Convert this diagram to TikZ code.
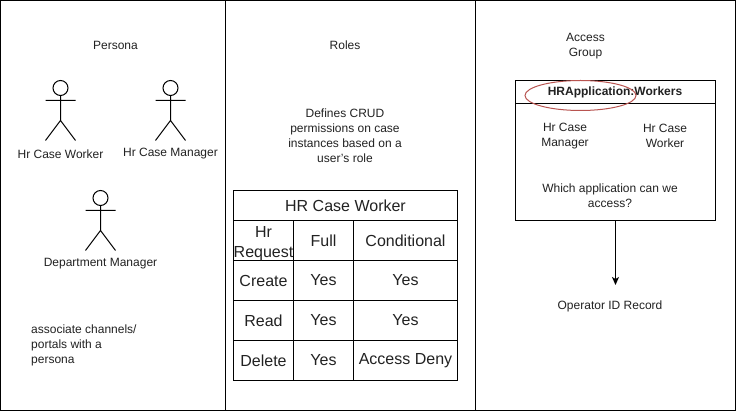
\documentclass[tikz,border=0pt]{standalone}
\usepackage{fontspec}
\setmainfont{Liberation Sans}
\usetikzlibrary{arrows.meta}
\definecolor{txt}{HTML}{222222}
\tikzset{
  lbl/.style={inner sep=0pt,align=center,text=txt,font=\fontsize{12}{15}\selectfont},
  cell/.style={inner sep=0pt,align=center,text=txt,font=\fontsize{16}{20}\selectfont},
  line/.style={draw=black,line width=1pt},
}
\newcommand{\actor}[3]{%
  \coordinate (#1) at (#2,#3);
  \draw[line] (#2,#3) circle (7.5);
  \draw[line] (#2,#3+7.5) -- (#2,#3+32.5) (#2-15,#3+12.5) -- (#2+15,#3+12.5)
     (#2-15,#3+52.5) -- (#2,#3+32.5) -- (#2+15,#3+52.5);
}
\begin{document}
\begin{tikzpicture}[x=1pt,y=-1pt]
\useasboundingbox (0,0) rectangle (736,411);
\fill[white] (0,0) rectangle (736,411);
% panels
\draw[line] (0.5,0.5) rectangle (225.5,410.5);
\draw[line] (225.5,0.5) rectangle (475.5,410.5);
\draw[line] (475.5,0.5) rectangle (735.5,410.5);
\node[lbl] (persona) at (115.5,45) {Persona};
\node[lbl] (roles) at (345,45) {Roles};
\node[lbl] (access) at (585.5,46) {Access\\Group};
% actors
\actor{a1}{60.5}{88}
\actor{a2}{170.5}{88}
\actor{a3}{100.5}{198}
\node[lbl] (n1) at (60.5,154) {Hr Case Worker};
\node[lbl] (n2) at (170.5,154) {Hr Case Manager};
\node[lbl] (n3) at (100.5,264) {Department Manager};
\node[lbl,align=left,anchor=north west] (assoc) at (31,325) {associate channels/\\portals with a\\persona};
\node[lbl] (crud) at (345,136) {Defines CRUD\\permissions on case\\instances based on a\\user's role};
% table
\draw[line] (233.5,190.5) rectangle (457.5,380.5);
\draw[line] (233.5,220.5) -- (457.5,220.5) (233.5,260.5) -- (457.5,260.5)
  (233.5,300.5) -- (457.5,300.5) (233.5,340.5) -- (457.5,340.5)
  (293.5,220.5) -- (293.5,380.5) (353.5,220.5) -- (353.5,380.5);
\node[cell] (t0) at (345.5,206) {HR Case Worker};
\node[cell] (h1) at (263.5,243.5) {Hr\\Request};
\node[cell] (h2) at (323.5,240.5) {Full};
\node[cell] (h3) at (405.5,240.5) {Conditional};
\node[cell] (c1) at (263.5,280.5) {Create};
\node[cell] (c2) at (323.5,280.5) {Yes};
\node[cell] (c3) at (405.5,280.5) {Yes};
\node[cell] (r1) at (263.5,320.5) {Read};
\node[cell] (r2) at (323.5,320.5) {Yes};
\node[cell] (r3) at (405.5,320.5) {Yes};
\node[cell] (d1) at (263.5,360.5) {Delete};
\node[cell] (d2) at (323.5,360.5) {Yes};
\node[cell] (d3) at (405.5,361) {Access Deny};
% access group box
\node[line,draw,minimum width=200pt,minimum height=140pt,inner sep=0pt] (box) at (615.5,150.5) {};
\draw[line] (515.5,103.5) -- (715.5,103.5);
\node[lbl,font=\fontsize{12}{15}\selectfont\bfseries] (title) at (615,92) {HRApplication:Workers};
\node[lbl] (m) at (565,136) {Hr Case\\Manager};
\node[lbl] (w) at (665,136) {Hr Case\\Worker};
\node[lbl] (q) at (610,196) {Which application can we\\access?};
\draw[draw={rgb,255:red,184;green,84;blue,80},line width=1pt] (580.5,95.5) ellipse (55.5 and 15);
\node[lbl] (op) at (610,306) {Operator ID Record};
\coordinate (optip) at (615.5,285);
\draw[line,-{Stealth[length=8pt,width=7pt,inset=2pt]}] (box.south) -- (optip);
\end{tikzpicture}
\end{document}
